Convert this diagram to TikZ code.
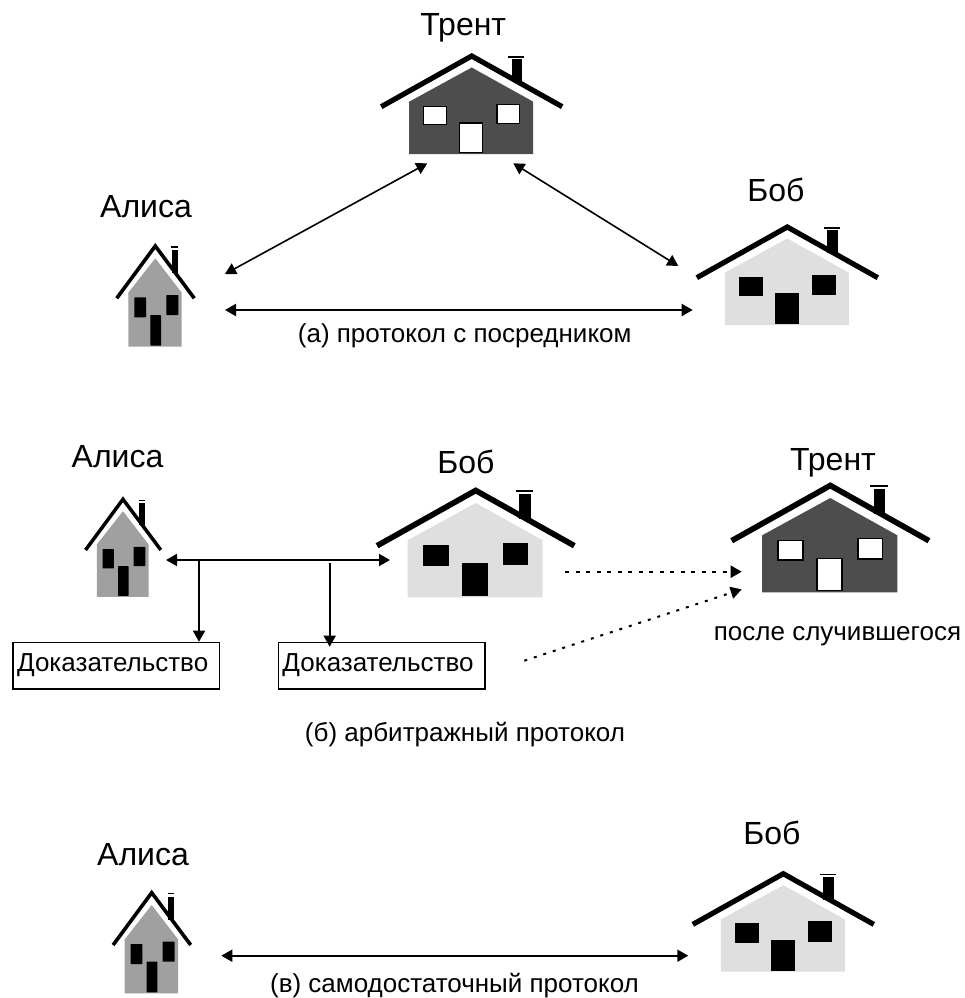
\documentclass[tikz,border=0pt]{standalone}
\usepackage{fontspec}
\setmainfont{Liberation Sans}
\usetikzlibrary{arrows.meta}
\definecolor{trentgray}{HTML}{4D4D4D}
\definecolor{bobgray}{HTML}{DFDFDF}
\definecolor{alicegray}{HTML}{A0A0A0}
\tikzset{
  big/.style={font=\fontsize{32}{36}\selectfont,anchor=base,inner sep=0pt},
  small/.style={font=\fontsize{26}{30}\selectfont,anchor=base,inner sep=0pt},
  proof/.style={draw,line width=1.5pt,minimum width=206.5pt,minimum height=46.5pt,inner sep=0pt},
  link/.style={line width=1.6pt,{Triangle[length=11pt,width=12pt]}-{Triangle[length=11pt,width=12pt]}},
  linkh/.style={line width=2pt,{Triangle[length=11pt,width=12pt]}-{Triangle[length=11pt,width=12pt]}},
  drop/.style={line width=1.7pt,-{Triangle[length=11pt,width=12pt]}},
  dashlink/.style={line width=2pt,dash pattern=on 4pt off 6.5pt,-{Triangle[length=11pt,width=12pt]}},
  dotlink/.style={line width=2pt,dash pattern=on 3pt off 7pt,-{Triangle[length=11pt,width=12pt]}},
}
% wide house: apex x, apex y, scale, body colour, window colour
\newcommand{\widehouse}[5]{%
  \begin{scope}[shift={(#1,#2)},x=#3pt,y=-#3pt]
    \fill[#4] (-62.5,47.7) -- (0,13.5) -- (61.5,47.7) -- (61.5,100) -- (-62.5,100) -- cycle;
    \fill[black] (40,5) rectangle (50.6,28);
    \draw[line width=1.7pt] (36.7,2.7) -- (52.7,2.7);
    \draw[line width=#3*5.2pt,miter limit=10] (-90.5,52.7) -- (0,2) -- (90.5,52.7);
    \draw[line width=1.5pt,fill=#5] (-48,52.5) rectangle (-25.2,70.5);
    \draw[line width=1.5pt,fill=#5] (25.5,50.5) rectangle (47.7,69.5);
    \draw[line width=1.5pt,fill=#5] (-12,69) rectangle (10.8,98.3);
  \end{scope}}
% narrow house: apex x, apex y, scale
\newcommand{\narrowhouse}[3]{%
  \begin{scope}[shift={(#1,#2)},x=#3pt,y=-#3pt]
    \fill[alicegray] (-27,48.7) -- (0,14.3) -- (26.4,48.7) -- (26.4,102.7) -- (-27,102.7) -- cycle;
    \fill[black] (16.7,6) rectangle (22.7,29);
    \draw[line width=1.2pt] (16,3) -- (22.7,3);
    \draw[line width=#3*3.6pt,miter limit=10] (-38.6,54.3) -- (0,2) -- (39,54.3);
    \fill[black,rounded corners=0.5pt] (-21,53.3) rectangle (-9.3,73.3);
    \fill[black,rounded corners=0.5pt] (11,51) rectangle (23,71);
    \fill[black,rounded corners=0.5pt] (-5,71) rectangle (5.7,101.7);
  \end{scope}}
\begin{document}
\begin{tikzpicture}[x=1pt,y=-1pt]
\useasboundingbox (0,0) rectangle (964,998);
% section a
\widehouse{471.7}{54}{1}{trentgray}{white}
\widehouse{787.3}{225}{1}{bobgray}{black}
\narrowhouse{155.3}{244}{1}
\node[big] (trentA) at (463.3,35.5) {Трент};
\node[big] (bobA) at (776,201) {Боб};
\node[big] (aliceA) at (146,217.5) {Алиса};
\node[small] (capA) at (464.7,342.5) {(а) протокол с посредником};
\coordinate (aliceAup) at (225,274);
\coordinate (aliceAside) at (225,310);
\coordinate (trentAleft) at (427.3,163.3);
\coordinate (trentAright) at (513.3,163.3);
\coordinate (bobAup) at (678.3,266);
\coordinate (bobAside) at (692.7,310);
\draw[link] (aliceAup) -- (trentAleft);
\draw[link] (trentAright) -- (bobAup);
\draw[linkh] (aliceAside) -- (bobAside);
% section b
\narrowhouse{123}{497.3}{0.97}
\widehouse{475.7}{488.3}{1.09}{bobgray}{black}
\widehouse{830.3}{483.3}{1.09}{trentgray}{white}
\node[big] (aliceB) at (117.5,467.5) {Алиса};
\node[big] (bobB) at (466,473.5) {Боб};
\node[big] (trentB) at (833,470) {Трент};
\node[proof,anchor=north west] (proofL) at (12,641.7) {};
\node[proof,anchor=north west] (proofR) at (277.7,641.7) {};
\node[small] (proofLt) at (112.7,671.5) {Доказательство};
\node[small] (proofRt) at (378,671.5) {Доказательство};
\node[small] (after) at (837.5,640) {после случившегося};
\node[small] (capB) at (465,741.7) {(б) арбитражный протокол};
\coordinate (aliceBside) at (166,560);
\coordinate (bobBside) at (390,560);
\coordinate (branchL) at (199,560);
\coordinate (branchR) at (329.7,562.7);
\coordinate (bobBout) at (565,571.7);
\coordinate (trentBin) at (741.7,571.7);
\coordinate (proofOut) at (524.3,660.7);
\coordinate (trentBlow) at (741.7,589.3);
\draw[linkh] (aliceBside) -- (bobBside);
\draw[drop] (branchL) -- (branchL |- proofL.north);
\draw[drop] (branchR) -- (329.7,646.7);
\draw[dashlink] (bobBout) -- (trentBin);
\draw[dotlink] (proofOut) -- (trentBlow);
% section c
\narrowhouse{151.7}{890.7}{1}
\widehouse{783.3}{871.7}{1}{bobgray}{black}
\node[big] (aliceC) at (143,865) {Алиса};
\node[big] (bobC) at (772,844) {Боб};
\node[small] (capC) at (454.5,992) {(в) самодостаточный протокол};
\coordinate (aliceCside) at (221.3,955.7);
\coordinate (bobCside) at (688.3,955.7);
\draw[linkh] (aliceCside) -- (bobCside);
\end{tikzpicture}
\end{document}
